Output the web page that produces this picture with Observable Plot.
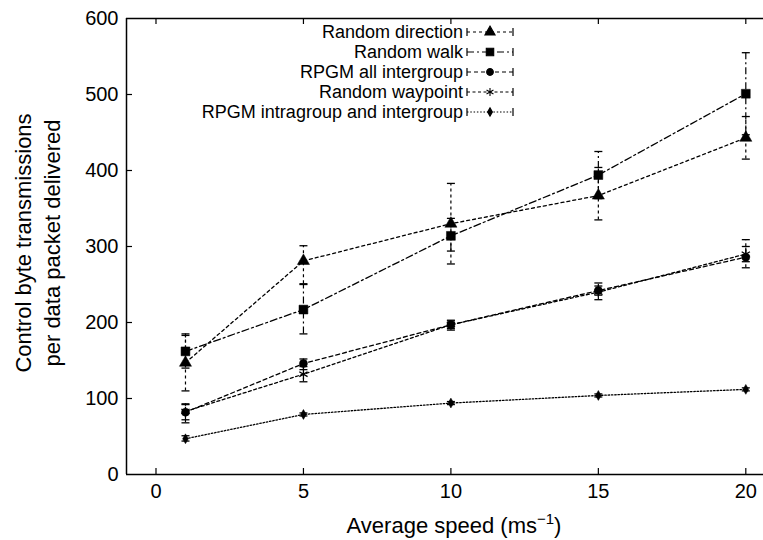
<!DOCTYPE html>
<html>
<head>
<meta charset="utf-8">
<script src="https://cdn.jsdelivr.net/npm/d3@7"></script>
<script src="https://cdn.jsdelivr.net/npm/@observablehq/plot@0.6"></script>
<style>
  html, body { margin: 0; padding: 0; background: #fff; }
  #chart { width: 763px; height: 540px; }
</style>
</head>
<body>
<div id="chart"></div>
<script>
// ---------- data ----------
const speeds = [1, 5, 10, 15, 20];
const xTicks = [0, 5, 10, 15, 20];
const yTicks = [0, 100, 200, 300, 400, 500, 600];

const seriesNames = [
  "Random direction",
  "Random walk",
  "RPGM all intergroup",
  "Random waypoint",
  "RPGM intragroup and intergroup"
];

const randomDirection   = [147, 281, 330, 367, 443];
const randomDirectionLo = [110, 251, 277, 335, 415];
const randomDirectionHi = [185, 301, 383, 404, 471];

const randomWalk   = [162, 217, 314, 394, 501];
const randomWalkLo = [140, 185, 294, 363, 447];
const randomWalkHi = [183, 250, 337, 425, 555];

const rpgmAll   = [82, 146, 197, 242, 286];
const rpgmAllLo = [72, 138, 192, 236, 280];
const rpgmAllHi = [93, 152, 202, 252, 309];

const randomWaypoint   = [83, 132, 197, 240, 290];
const randomWaypointLo = [68, 122, 190, 230, 272];
const randomWaypointHi = [92, 142, 203, 248, 300];

const rpgmIntra   = [47, 79, 94, 104, 112];
const rpgmIntraLo = [44, 77, 92, 102, 110];
const rpgmIntraHi = [51, 81, 96, 106, 114];

// ---------- styles ----------
const styles = {
  "Random direction":               {dash: "3,3",       symbol: "triangle", fill: "black", r: 4.5},
  "Random walk":                    {dash: "7,3,2,3",   symbol: "square",   fill: "black", r: 5},
  "RPGM all intergroup":            {dash: "4,3",       symbol: "circle",   fill: "black", r: 4},
  "Random waypoint":                {dash: "3,2.5",     symbol: "asterisk", fill: "none",  r: 4.5},
  "RPGM intragroup and intergroup": {dash: "1.5,1.8",   symbol: "diamond",  fill: "black", r: 3}
};

const values = [randomDirection, randomWalk, rpgmAll, randomWaypoint, rpgmIntra];
const lows   = [randomDirectionLo, randomWalkLo, rpgmAllLo, randomWaypointLo, rpgmIntraLo];
const highs  = [randomDirectionHi, randomWalkHi, rpgmAllHi, randomWaypointHi, rpgmIntraHi];

const rows = [];
seriesNames.forEach((name, i) => {
  speeds.forEach((s, j) => {
    rows.push({series: name, x: s, y: values[i][j], lo: lows[i][j], hi: highs[i][j]});
  });
});
const caps = rows.flatMap(d => [{series: d.series, x: d.x, y: d.lo}, {series: d.series, x: d.x, y: d.hi}]);

const capSymbol = {
  draw(context, size) {
    const w = Math.sqrt(size / Math.PI);
    context.moveTo(-w, 0);
    context.lineTo(w, 0);
  }
};

const W = 763, H = 540;
const mL = 126, mR = 0, mT = 18, mB = 66;
const plotW = W - mL - mR, plotH = H - mT - mB;
const FONT = "'Liberation Sans', Arial, Helvetica, sans-serif";

const marks = [];
// frame (left, bottom, top)
marks.push(Plot.ruleX([-1], {stroke: "black", strokeWidth: 1.5}));
marks.push(Plot.ruleY([0, 600], {stroke: "black", strokeWidth: 1.5}));
// inward ticks
marks.push(Plot.ruleY(yTicks.slice(1, -1), {stroke: "black", strokeWidth: 1.2, insetRight: plotW - 6}));
marks.push(Plot.ruleX(xTicks, {stroke: "black", strokeWidth: 1.2, insetTop: plotH - 6}));
marks.push(Plot.ruleX(xTicks, {stroke: "black", strokeWidth: 1.2, insetBottom: plotH - 6}));
// axis labels
marks.push(Plot.axisX({ticks: xTicks, tickSize: 0, tickPadding: 9, fontSize: 20, label: null}));
marks.push(Plot.axisY({ticks: yTicks, tickSize: 0, tickPadding: 8, fontSize: 20, label: null}));

seriesNames.forEach(name => {
  const st = styles[name];
  const data = rows.filter(d => d.series === name);
  const cdata = caps.filter(d => d.series === name);
  marks.push(Plot.line(data, {x: "x", y: "y", stroke: "black", strokeWidth: 1.3, strokeDasharray: st.dash}));
  marks.push(Plot.ruleX(data, {x: "x", y1: "lo", y2: "hi", stroke: "black", strokeWidth: 1.2, strokeDasharray: st.dash}));
  marks.push(Plot.dot(cdata, {x: "x", y: "y", symbol: capSymbol, r: 4, stroke: "black", strokeWidth: 1.3}));
  marks.push(Plot.dot(data, {x: "x", y: "y", symbol: st.symbol, r: st.r,
    fill: st.fill === "none" ? null : "black", stroke: "black", strokeWidth: st.fill === "none" ? 1.3 : 0.5}));
});

const chart = Plot.plot({
  width: W, height: H,
  marginLeft: mL, marginRight: mR, marginTop: mT, marginBottom: mB,
  style: {fontFamily: FONT, color: "black", background: "white", overflow: "visible"},
  x: {domain: [-1, 20.6]},
  y: {domain: [0, 600]},
  marks
});

document.getElementById("chart").appendChild(chart);

// ---------- legend and axis titles (pixel-placed SVG) ----------
const svg = d3.select(chart);
const legendY0 = 32, legendStep = 20;
const textRight = 463, sampleX1 = 467, sampleX2 = 513;
const lg = svg.append("g").attr("font-family", FONT).attr("font-size", 18);
seriesNames.forEach((name, i) => {
  const st = styles[name];
  const yy = legendY0 + i * legendStep;
  lg.append("text").attr("x", textRight).attr("y", yy).attr("dy", "0.35em")
    .attr("text-anchor", "end").attr("fill", "black").text(name);
  lg.append("line").attr("x1", sampleX1).attr("x2", sampleX2).attr("y1", yy).attr("y2", yy)
    .attr("stroke", "black").attr("stroke-width", 1.2).attr("stroke-dasharray", st.dash);
  [sampleX1, sampleX2].forEach(xx => {
    lg.append("line").attr("x1", xx).attr("x2", xx).attr("y1", yy - 4).attr("y2", yy + 4)
      .attr("stroke", "black").attr("stroke-width", 1.2);
  });
  const sym = d3.symbol().type({
    triangle: d3.symbolTriangle, square: d3.symbolSquare, circle: d3.symbolCircle,
    asterisk: d3.symbolAsterisk, diamond: d3.symbolDiamond
  }[st.symbol]).size(Math.PI * st.r * st.r * 0.7);
  lg.append("path").attr("d", sym()).attr("transform", `translate(${(sampleX1 + sampleX2) / 2},${yy})`)
    .attr("fill", st.fill === "none" ? "none" : "black").attr("stroke", "black").attr("stroke-width", 1.1);
});

svg.append("text").attr("x", mL + 328).attr("y", 533)
  .attr("text-anchor", "middle").attr("font-family", FONT).attr("font-size", 22).attr("fill", "black")
  .call(t => {
    t.append("tspan").text("Average speed (ms");
    t.append("tspan").attr("dy", -9).attr("font-size", 15).text("\u22121");
    t.append("tspan").attr("dy", 9).text(")");
  });

const yl = svg.append("text").attr("transform", "translate(38,243) rotate(-90)")
  .attr("text-anchor", "middle").attr("font-family", FONT).attr("font-size", 22).attr("fill", "black");
yl.append("tspan").attr("x", 0).attr("y", -7).text("Control byte transmissions");
yl.append("tspan").attr("x", 0).attr("y", 22).text("per data packet delivered");
</script>
</body>
</html>
